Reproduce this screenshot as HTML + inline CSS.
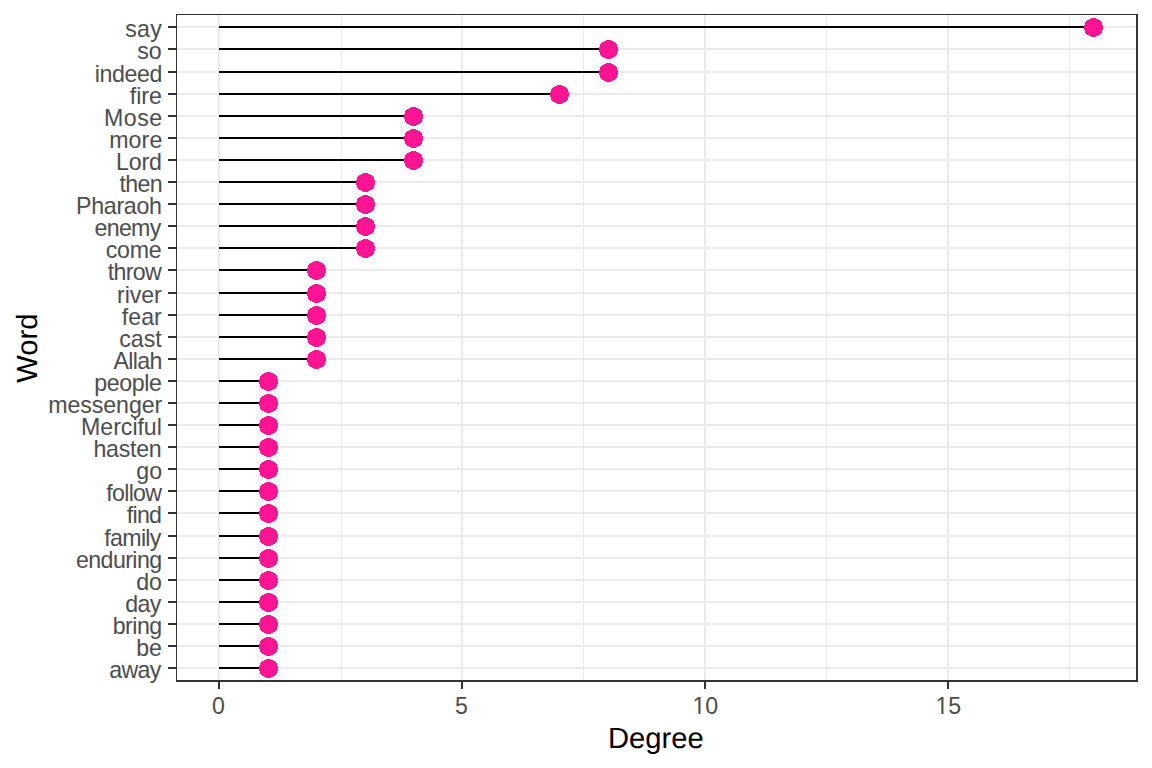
<!DOCTYPE html>
<html lang="en"><head><meta charset="utf-8"><title>Degree by Word</title>
<style>
html,body{margin:0;padding:0;background:#fff;}
body{width:1152px;height:768px;overflow:hidden;}
svg{display:block;}
text{font-family:"Liberation Sans",Arial,sans-serif;}
.yl{font-size:23.2px;fill:#4d4d4d;text-anchor:end;}
.xl{font-size:23.2px;fill:#4d4d4d;text-anchor:middle;}
.tt{font-size:29.2px;fill:#000;text-anchor:middle;text-rendering:geometricPrecision;}
</style></head><body>
<svg width="1152" height="768" viewBox="0 0 1152 768">
<rect x="0" y="0" width="1152" height="768" fill="#fff"/>
<g shape-rendering="crispEdges">
<rect x="341" y="15" width="1" height="665" fill="#ebebeb"/>
<rect x="583" y="15" width="1" height="665" fill="#ebebeb"/>
<rect x="826" y="15" width="1" height="665" fill="#ebebeb"/>
<rect x="1069" y="15" width="1" height="665" fill="#ebebeb"/>
<rect x="177" y="26" width="959" height="2" fill="#ebebeb"/>
<rect x="177" y="48" width="959" height="2" fill="#ebebeb"/>
<rect x="177" y="71" width="959" height="2" fill="#ebebeb"/>
<rect x="177" y="93" width="959" height="2" fill="#ebebeb"/>
<rect x="177" y="115" width="959" height="2" fill="#ebebeb"/>
<rect x="177" y="137" width="959" height="2" fill="#ebebeb"/>
<rect x="177" y="159" width="959" height="2" fill="#ebebeb"/>
<rect x="177" y="181" width="959" height="2" fill="#ebebeb"/>
<rect x="177" y="203" width="959" height="2" fill="#ebebeb"/>
<rect x="177" y="225" width="959" height="2" fill="#ebebeb"/>
<rect x="177" y="247" width="959" height="2" fill="#ebebeb"/>
<rect x="177" y="269" width="959" height="2" fill="#ebebeb"/>
<rect x="177" y="292" width="959" height="2" fill="#ebebeb"/>
<rect x="177" y="314" width="959" height="2" fill="#ebebeb"/>
<rect x="177" y="336" width="959" height="2" fill="#ebebeb"/>
<rect x="177" y="358" width="959" height="2" fill="#ebebeb"/>
<rect x="177" y="380" width="959" height="2" fill="#ebebeb"/>
<rect x="177" y="402" width="959" height="2" fill="#ebebeb"/>
<rect x="177" y="424" width="959" height="2" fill="#ebebeb"/>
<rect x="177" y="446" width="959" height="2" fill="#ebebeb"/>
<rect x="177" y="468" width="959" height="2" fill="#ebebeb"/>
<rect x="177" y="490" width="959" height="2" fill="#ebebeb"/>
<rect x="177" y="512" width="959" height="2" fill="#ebebeb"/>
<rect x="177" y="535" width="959" height="2" fill="#ebebeb"/>
<rect x="177" y="557" width="959" height="2" fill="#ebebeb"/>
<rect x="177" y="579" width="959" height="2" fill="#ebebeb"/>
<rect x="177" y="601" width="959" height="2" fill="#ebebeb"/>
<rect x="177" y="623" width="959" height="2" fill="#ebebeb"/>
<rect x="177" y="645" width="959" height="2" fill="#ebebeb"/>
<rect x="177" y="667" width="959" height="2" fill="#ebebeb"/>
<rect x="218" y="15" width="2" height="665" fill="#ebebeb"/>
<rect x="461" y="15" width="2" height="665" fill="#ebebeb"/>
<rect x="704" y="15" width="2" height="665" fill="#ebebeb"/>
<rect x="947" y="15" width="2" height="665" fill="#ebebeb"/>
<rect x="219" y="26" width="875" height="2" fill="#000"/>
<rect x="219" y="48" width="389" height="2" fill="#000"/>
<rect x="219" y="71" width="389" height="2" fill="#000"/>
<rect x="219" y="93" width="340" height="2" fill="#000"/>
<rect x="219" y="115" width="194" height="2" fill="#000"/>
<rect x="219" y="137" width="194" height="2" fill="#000"/>
<rect x="219" y="159" width="194" height="2" fill="#000"/>
<rect x="219" y="181" width="146" height="2" fill="#000"/>
<rect x="219" y="203" width="146" height="2" fill="#000"/>
<rect x="219" y="225" width="146" height="2" fill="#000"/>
<rect x="219" y="247" width="146" height="2" fill="#000"/>
<rect x="219" y="269" width="97" height="2" fill="#000"/>
<rect x="219" y="292" width="97" height="2" fill="#000"/>
<rect x="219" y="314" width="97" height="2" fill="#000"/>
<rect x="219" y="336" width="97" height="2" fill="#000"/>
<rect x="219" y="358" width="97" height="2" fill="#000"/>
<rect x="219" y="380" width="49" height="2" fill="#000"/>
<rect x="219" y="402" width="49" height="2" fill="#000"/>
<rect x="219" y="424" width="49" height="2" fill="#000"/>
<rect x="219" y="446" width="49" height="2" fill="#000"/>
<rect x="219" y="468" width="49" height="2" fill="#000"/>
<rect x="219" y="490" width="49" height="2" fill="#000"/>
<rect x="219" y="512" width="49" height="2" fill="#000"/>
<rect x="219" y="535" width="49" height="2" fill="#000"/>
<rect x="219" y="557" width="49" height="2" fill="#000"/>
<rect x="219" y="579" width="49" height="2" fill="#000"/>
<rect x="219" y="601" width="49" height="2" fill="#000"/>
<rect x="219" y="623" width="49" height="2" fill="#000"/>
<rect x="219" y="645" width="49" height="2" fill="#000"/>
<rect x="219" y="667" width="49" height="2" fill="#000"/>
<g fill="#ff1493">
<path transform="translate(1093,27)" d="M3 -9 L3 -8 L5 -8 L5 -7 L7 -7 L7 -6 L8 -6 L8 -5 L9 -5 L9 -4 L9 -4 L9 -3 L9 -3 L9 -2 L10 -2 L10 -1 L10 -1 L10 0 L10 0 L10 1 L10 1 L10 2 L10 2 L10 3 L9 3 L9 4 L9 4 L9 5 L9 5 L9 6 L8 6 L8 7 L7 7 L7 8 L5 8 L5 9 L3 9 L3 10 L-2 10 L-2 9 L-4 9 L-4 8 L-6 8 L-6 7 L-7 7 L-7 6 L-8 6 L-8 5 L-8 5 L-8 4 L-8 4 L-8 3 L-9 3 L-9 2 L-9 2 L-9 1 L-9 1 L-9 0 L-9 0 L-9 -1 L-9 -1 L-9 -2 L-8 -2 L-8 -3 L-8 -3 L-8 -4 L-8 -4 L-8 -5 L-7 -5 L-7 -6 L-6 -6 L-6 -7 L-4 -7 L-4 -8 L-2 -8 L-2 -9Z"/>
<path transform="translate(608,49)" d="M3 -9 L3 -8 L5 -8 L5 -7 L7 -7 L7 -6 L8 -6 L8 -5 L9 -5 L9 -4 L9 -4 L9 -3 L9 -3 L9 -2 L10 -2 L10 -1 L10 -1 L10 0 L10 0 L10 1 L10 1 L10 2 L10 2 L10 3 L9 3 L9 4 L9 4 L9 5 L9 5 L9 6 L8 6 L8 7 L7 7 L7 8 L5 8 L5 9 L3 9 L3 10 L-2 10 L-2 9 L-4 9 L-4 8 L-6 8 L-6 7 L-7 7 L-7 6 L-8 6 L-8 5 L-8 5 L-8 4 L-8 4 L-8 3 L-9 3 L-9 2 L-9 2 L-9 1 L-9 1 L-9 0 L-9 0 L-9 -1 L-9 -1 L-9 -2 L-8 -2 L-8 -3 L-8 -3 L-8 -4 L-8 -4 L-8 -5 L-7 -5 L-7 -6 L-6 -6 L-6 -7 L-4 -7 L-4 -8 L-2 -8 L-2 -9Z"/>
<path transform="translate(608,72)" d="M3 -9 L3 -8 L5 -8 L5 -7 L7 -7 L7 -6 L8 -6 L8 -5 L9 -5 L9 -4 L9 -4 L9 -3 L9 -3 L9 -2 L10 -2 L10 -1 L10 -1 L10 0 L10 0 L10 1 L10 1 L10 2 L10 2 L10 3 L9 3 L9 4 L9 4 L9 5 L9 5 L9 6 L8 6 L8 7 L7 7 L7 8 L5 8 L5 9 L3 9 L3 10 L-2 10 L-2 9 L-4 9 L-4 8 L-6 8 L-6 7 L-7 7 L-7 6 L-8 6 L-8 5 L-8 5 L-8 4 L-8 4 L-8 3 L-9 3 L-9 2 L-9 2 L-9 1 L-9 1 L-9 0 L-9 0 L-9 -1 L-9 -1 L-9 -2 L-8 -2 L-8 -3 L-8 -3 L-8 -4 L-8 -4 L-8 -5 L-7 -5 L-7 -6 L-6 -6 L-6 -7 L-4 -7 L-4 -8 L-2 -8 L-2 -9Z"/>
<path transform="translate(559,94)" d="M3 -9 L3 -8 L5 -8 L5 -7 L7 -7 L7 -6 L8 -6 L8 -5 L9 -5 L9 -4 L9 -4 L9 -3 L9 -3 L9 -2 L10 -2 L10 -1 L10 -1 L10 0 L10 0 L10 1 L10 1 L10 2 L10 2 L10 3 L9 3 L9 4 L9 4 L9 5 L9 5 L9 6 L8 6 L8 7 L7 7 L7 8 L5 8 L5 9 L3 9 L3 10 L-2 10 L-2 9 L-4 9 L-4 8 L-6 8 L-6 7 L-7 7 L-7 6 L-8 6 L-8 5 L-8 5 L-8 4 L-8 4 L-8 3 L-9 3 L-9 2 L-9 2 L-9 1 L-9 1 L-9 0 L-9 0 L-9 -1 L-9 -1 L-9 -2 L-8 -2 L-8 -3 L-8 -3 L-8 -4 L-8 -4 L-8 -5 L-7 -5 L-7 -6 L-6 -6 L-6 -7 L-4 -7 L-4 -8 L-2 -8 L-2 -9Z"/>
<path transform="translate(413,116)" d="M3 -9 L3 -8 L5 -8 L5 -7 L7 -7 L7 -6 L8 -6 L8 -5 L9 -5 L9 -4 L9 -4 L9 -3 L9 -3 L9 -2 L10 -2 L10 -1 L10 -1 L10 0 L10 0 L10 1 L10 1 L10 2 L10 2 L10 3 L9 3 L9 4 L9 4 L9 5 L9 5 L9 6 L8 6 L8 7 L7 7 L7 8 L5 8 L5 9 L3 9 L3 10 L-2 10 L-2 9 L-4 9 L-4 8 L-6 8 L-6 7 L-7 7 L-7 6 L-8 6 L-8 5 L-8 5 L-8 4 L-8 4 L-8 3 L-9 3 L-9 2 L-9 2 L-9 1 L-9 1 L-9 0 L-9 0 L-9 -1 L-9 -1 L-9 -2 L-8 -2 L-8 -3 L-8 -3 L-8 -4 L-8 -4 L-8 -5 L-7 -5 L-7 -6 L-6 -6 L-6 -7 L-4 -7 L-4 -8 L-2 -8 L-2 -9Z"/>
<path transform="translate(413,138)" d="M3 -9 L3 -8 L5 -8 L5 -7 L7 -7 L7 -6 L8 -6 L8 -5 L9 -5 L9 -4 L9 -4 L9 -3 L9 -3 L9 -2 L10 -2 L10 -1 L10 -1 L10 0 L10 0 L10 1 L10 1 L10 2 L10 2 L10 3 L9 3 L9 4 L9 4 L9 5 L9 5 L9 6 L8 6 L8 7 L7 7 L7 8 L5 8 L5 9 L3 9 L3 10 L-2 10 L-2 9 L-4 9 L-4 8 L-6 8 L-6 7 L-7 7 L-7 6 L-8 6 L-8 5 L-8 5 L-8 4 L-8 4 L-8 3 L-9 3 L-9 2 L-9 2 L-9 1 L-9 1 L-9 0 L-9 0 L-9 -1 L-9 -1 L-9 -2 L-8 -2 L-8 -3 L-8 -3 L-8 -4 L-8 -4 L-8 -5 L-7 -5 L-7 -6 L-6 -6 L-6 -7 L-4 -7 L-4 -8 L-2 -8 L-2 -9Z"/>
<path transform="translate(413,160)" d="M3 -9 L3 -8 L5 -8 L5 -7 L7 -7 L7 -6 L8 -6 L8 -5 L9 -5 L9 -4 L9 -4 L9 -3 L9 -3 L9 -2 L10 -2 L10 -1 L10 -1 L10 0 L10 0 L10 1 L10 1 L10 2 L10 2 L10 3 L9 3 L9 4 L9 4 L9 5 L9 5 L9 6 L8 6 L8 7 L7 7 L7 8 L5 8 L5 9 L3 9 L3 10 L-2 10 L-2 9 L-4 9 L-4 8 L-6 8 L-6 7 L-7 7 L-7 6 L-8 6 L-8 5 L-8 5 L-8 4 L-8 4 L-8 3 L-9 3 L-9 2 L-9 2 L-9 1 L-9 1 L-9 0 L-9 0 L-9 -1 L-9 -1 L-9 -2 L-8 -2 L-8 -3 L-8 -3 L-8 -4 L-8 -4 L-8 -5 L-7 -5 L-7 -6 L-6 -6 L-6 -7 L-4 -7 L-4 -8 L-2 -8 L-2 -9Z"/>
<path transform="translate(365,182)" d="M3 -9 L3 -8 L5 -8 L5 -7 L7 -7 L7 -6 L8 -6 L8 -5 L9 -5 L9 -4 L9 -4 L9 -3 L9 -3 L9 -2 L10 -2 L10 -1 L10 -1 L10 0 L10 0 L10 1 L10 1 L10 2 L10 2 L10 3 L9 3 L9 4 L9 4 L9 5 L9 5 L9 6 L8 6 L8 7 L7 7 L7 8 L5 8 L5 9 L3 9 L3 10 L-2 10 L-2 9 L-4 9 L-4 8 L-6 8 L-6 7 L-7 7 L-7 6 L-8 6 L-8 5 L-8 5 L-8 4 L-8 4 L-8 3 L-9 3 L-9 2 L-9 2 L-9 1 L-9 1 L-9 0 L-9 0 L-9 -1 L-9 -1 L-9 -2 L-8 -2 L-8 -3 L-8 -3 L-8 -4 L-8 -4 L-8 -5 L-7 -5 L-7 -6 L-6 -6 L-6 -7 L-4 -7 L-4 -8 L-2 -8 L-2 -9Z"/>
<path transform="translate(365,204)" d="M3 -9 L3 -8 L5 -8 L5 -7 L7 -7 L7 -6 L8 -6 L8 -5 L9 -5 L9 -4 L9 -4 L9 -3 L9 -3 L9 -2 L10 -2 L10 -1 L10 -1 L10 0 L10 0 L10 1 L10 1 L10 2 L10 2 L10 3 L9 3 L9 4 L9 4 L9 5 L9 5 L9 6 L8 6 L8 7 L7 7 L7 8 L5 8 L5 9 L3 9 L3 10 L-2 10 L-2 9 L-4 9 L-4 8 L-6 8 L-6 7 L-7 7 L-7 6 L-8 6 L-8 5 L-8 5 L-8 4 L-8 4 L-8 3 L-9 3 L-9 2 L-9 2 L-9 1 L-9 1 L-9 0 L-9 0 L-9 -1 L-9 -1 L-9 -2 L-8 -2 L-8 -3 L-8 -3 L-8 -4 L-8 -4 L-8 -5 L-7 -5 L-7 -6 L-6 -6 L-6 -7 L-4 -7 L-4 -8 L-2 -8 L-2 -9Z"/>
<path transform="translate(365,226)" d="M3 -9 L3 -8 L5 -8 L5 -7 L7 -7 L7 -6 L8 -6 L8 -5 L9 -5 L9 -4 L9 -4 L9 -3 L9 -3 L9 -2 L10 -2 L10 -1 L10 -1 L10 0 L10 0 L10 1 L10 1 L10 2 L10 2 L10 3 L9 3 L9 4 L9 4 L9 5 L9 5 L9 6 L8 6 L8 7 L7 7 L7 8 L5 8 L5 9 L3 9 L3 10 L-2 10 L-2 9 L-4 9 L-4 8 L-6 8 L-6 7 L-7 7 L-7 6 L-8 6 L-8 5 L-8 5 L-8 4 L-8 4 L-8 3 L-9 3 L-9 2 L-9 2 L-9 1 L-9 1 L-9 0 L-9 0 L-9 -1 L-9 -1 L-9 -2 L-8 -2 L-8 -3 L-8 -3 L-8 -4 L-8 -4 L-8 -5 L-7 -5 L-7 -6 L-6 -6 L-6 -7 L-4 -7 L-4 -8 L-2 -8 L-2 -9Z"/>
<path transform="translate(365,248)" d="M3 -9 L3 -8 L5 -8 L5 -7 L7 -7 L7 -6 L8 -6 L8 -5 L9 -5 L9 -4 L9 -4 L9 -3 L9 -3 L9 -2 L10 -2 L10 -1 L10 -1 L10 0 L10 0 L10 1 L10 1 L10 2 L10 2 L10 3 L9 3 L9 4 L9 4 L9 5 L9 5 L9 6 L8 6 L8 7 L7 7 L7 8 L5 8 L5 9 L3 9 L3 10 L-2 10 L-2 9 L-4 9 L-4 8 L-6 8 L-6 7 L-7 7 L-7 6 L-8 6 L-8 5 L-8 5 L-8 4 L-8 4 L-8 3 L-9 3 L-9 2 L-9 2 L-9 1 L-9 1 L-9 0 L-9 0 L-9 -1 L-9 -1 L-9 -2 L-8 -2 L-8 -3 L-8 -3 L-8 -4 L-8 -4 L-8 -5 L-7 -5 L-7 -6 L-6 -6 L-6 -7 L-4 -7 L-4 -8 L-2 -8 L-2 -9Z"/>
<path transform="translate(316,270)" d="M3 -9 L3 -8 L5 -8 L5 -7 L7 -7 L7 -6 L8 -6 L8 -5 L9 -5 L9 -4 L9 -4 L9 -3 L9 -3 L9 -2 L10 -2 L10 -1 L10 -1 L10 0 L10 0 L10 1 L10 1 L10 2 L10 2 L10 3 L9 3 L9 4 L9 4 L9 5 L9 5 L9 6 L8 6 L8 7 L7 7 L7 8 L5 8 L5 9 L3 9 L3 10 L-2 10 L-2 9 L-4 9 L-4 8 L-6 8 L-6 7 L-7 7 L-7 6 L-8 6 L-8 5 L-8 5 L-8 4 L-8 4 L-8 3 L-9 3 L-9 2 L-9 2 L-9 1 L-9 1 L-9 0 L-9 0 L-9 -1 L-9 -1 L-9 -2 L-8 -2 L-8 -3 L-8 -3 L-8 -4 L-8 -4 L-8 -5 L-7 -5 L-7 -6 L-6 -6 L-6 -7 L-4 -7 L-4 -8 L-2 -8 L-2 -9Z"/>
<path transform="translate(316,293)" d="M3 -9 L3 -8 L5 -8 L5 -7 L7 -7 L7 -6 L8 -6 L8 -5 L9 -5 L9 -4 L9 -4 L9 -3 L9 -3 L9 -2 L10 -2 L10 -1 L10 -1 L10 0 L10 0 L10 1 L10 1 L10 2 L10 2 L10 3 L9 3 L9 4 L9 4 L9 5 L9 5 L9 6 L8 6 L8 7 L7 7 L7 8 L5 8 L5 9 L3 9 L3 10 L-2 10 L-2 9 L-4 9 L-4 8 L-6 8 L-6 7 L-7 7 L-7 6 L-8 6 L-8 5 L-8 5 L-8 4 L-8 4 L-8 3 L-9 3 L-9 2 L-9 2 L-9 1 L-9 1 L-9 0 L-9 0 L-9 -1 L-9 -1 L-9 -2 L-8 -2 L-8 -3 L-8 -3 L-8 -4 L-8 -4 L-8 -5 L-7 -5 L-7 -6 L-6 -6 L-6 -7 L-4 -7 L-4 -8 L-2 -8 L-2 -9Z"/>
<path transform="translate(316,315)" d="M3 -9 L3 -8 L5 -8 L5 -7 L7 -7 L7 -6 L8 -6 L8 -5 L9 -5 L9 -4 L9 -4 L9 -3 L9 -3 L9 -2 L10 -2 L10 -1 L10 -1 L10 0 L10 0 L10 1 L10 1 L10 2 L10 2 L10 3 L9 3 L9 4 L9 4 L9 5 L9 5 L9 6 L8 6 L8 7 L7 7 L7 8 L5 8 L5 9 L3 9 L3 10 L-2 10 L-2 9 L-4 9 L-4 8 L-6 8 L-6 7 L-7 7 L-7 6 L-8 6 L-8 5 L-8 5 L-8 4 L-8 4 L-8 3 L-9 3 L-9 2 L-9 2 L-9 1 L-9 1 L-9 0 L-9 0 L-9 -1 L-9 -1 L-9 -2 L-8 -2 L-8 -3 L-8 -3 L-8 -4 L-8 -4 L-8 -5 L-7 -5 L-7 -6 L-6 -6 L-6 -7 L-4 -7 L-4 -8 L-2 -8 L-2 -9Z"/>
<path transform="translate(316,337)" d="M3 -9 L3 -8 L5 -8 L5 -7 L7 -7 L7 -6 L8 -6 L8 -5 L9 -5 L9 -4 L9 -4 L9 -3 L9 -3 L9 -2 L10 -2 L10 -1 L10 -1 L10 0 L10 0 L10 1 L10 1 L10 2 L10 2 L10 3 L9 3 L9 4 L9 4 L9 5 L9 5 L9 6 L8 6 L8 7 L7 7 L7 8 L5 8 L5 9 L3 9 L3 10 L-2 10 L-2 9 L-4 9 L-4 8 L-6 8 L-6 7 L-7 7 L-7 6 L-8 6 L-8 5 L-8 5 L-8 4 L-8 4 L-8 3 L-9 3 L-9 2 L-9 2 L-9 1 L-9 1 L-9 0 L-9 0 L-9 -1 L-9 -1 L-9 -2 L-8 -2 L-8 -3 L-8 -3 L-8 -4 L-8 -4 L-8 -5 L-7 -5 L-7 -6 L-6 -6 L-6 -7 L-4 -7 L-4 -8 L-2 -8 L-2 -9Z"/>
<path transform="translate(316,359)" d="M3 -9 L3 -8 L5 -8 L5 -7 L7 -7 L7 -6 L8 -6 L8 -5 L9 -5 L9 -4 L9 -4 L9 -3 L9 -3 L9 -2 L10 -2 L10 -1 L10 -1 L10 0 L10 0 L10 1 L10 1 L10 2 L10 2 L10 3 L9 3 L9 4 L9 4 L9 5 L9 5 L9 6 L8 6 L8 7 L7 7 L7 8 L5 8 L5 9 L3 9 L3 10 L-2 10 L-2 9 L-4 9 L-4 8 L-6 8 L-6 7 L-7 7 L-7 6 L-8 6 L-8 5 L-8 5 L-8 4 L-8 4 L-8 3 L-9 3 L-9 2 L-9 2 L-9 1 L-9 1 L-9 0 L-9 0 L-9 -1 L-9 -1 L-9 -2 L-8 -2 L-8 -3 L-8 -3 L-8 -4 L-8 -4 L-8 -5 L-7 -5 L-7 -6 L-6 -6 L-6 -7 L-4 -7 L-4 -8 L-2 -8 L-2 -9Z"/>
<path transform="translate(268,381)" d="M3 -9 L3 -8 L5 -8 L5 -7 L7 -7 L7 -6 L8 -6 L8 -5 L9 -5 L9 -4 L9 -4 L9 -3 L9 -3 L9 -2 L10 -2 L10 -1 L10 -1 L10 0 L10 0 L10 1 L10 1 L10 2 L10 2 L10 3 L9 3 L9 4 L9 4 L9 5 L9 5 L9 6 L8 6 L8 7 L7 7 L7 8 L5 8 L5 9 L3 9 L3 10 L-2 10 L-2 9 L-4 9 L-4 8 L-6 8 L-6 7 L-7 7 L-7 6 L-8 6 L-8 5 L-8 5 L-8 4 L-8 4 L-8 3 L-9 3 L-9 2 L-9 2 L-9 1 L-9 1 L-9 0 L-9 0 L-9 -1 L-9 -1 L-9 -2 L-8 -2 L-8 -3 L-8 -3 L-8 -4 L-8 -4 L-8 -5 L-7 -5 L-7 -6 L-6 -6 L-6 -7 L-4 -7 L-4 -8 L-2 -8 L-2 -9Z"/>
<path transform="translate(268,403)" d="M3 -9 L3 -8 L5 -8 L5 -7 L7 -7 L7 -6 L8 -6 L8 -5 L9 -5 L9 -4 L9 -4 L9 -3 L9 -3 L9 -2 L10 -2 L10 -1 L10 -1 L10 0 L10 0 L10 1 L10 1 L10 2 L10 2 L10 3 L9 3 L9 4 L9 4 L9 5 L9 5 L9 6 L8 6 L8 7 L7 7 L7 8 L5 8 L5 9 L3 9 L3 10 L-2 10 L-2 9 L-4 9 L-4 8 L-6 8 L-6 7 L-7 7 L-7 6 L-8 6 L-8 5 L-8 5 L-8 4 L-8 4 L-8 3 L-9 3 L-9 2 L-9 2 L-9 1 L-9 1 L-9 0 L-9 0 L-9 -1 L-9 -1 L-9 -2 L-8 -2 L-8 -3 L-8 -3 L-8 -4 L-8 -4 L-8 -5 L-7 -5 L-7 -6 L-6 -6 L-6 -7 L-4 -7 L-4 -8 L-2 -8 L-2 -9Z"/>
<path transform="translate(268,425)" d="M3 -9 L3 -8 L5 -8 L5 -7 L7 -7 L7 -6 L8 -6 L8 -5 L9 -5 L9 -4 L9 -4 L9 -3 L9 -3 L9 -2 L10 -2 L10 -1 L10 -1 L10 0 L10 0 L10 1 L10 1 L10 2 L10 2 L10 3 L9 3 L9 4 L9 4 L9 5 L9 5 L9 6 L8 6 L8 7 L7 7 L7 8 L5 8 L5 9 L3 9 L3 10 L-2 10 L-2 9 L-4 9 L-4 8 L-6 8 L-6 7 L-7 7 L-7 6 L-8 6 L-8 5 L-8 5 L-8 4 L-8 4 L-8 3 L-9 3 L-9 2 L-9 2 L-9 1 L-9 1 L-9 0 L-9 0 L-9 -1 L-9 -1 L-9 -2 L-8 -2 L-8 -3 L-8 -3 L-8 -4 L-8 -4 L-8 -5 L-7 -5 L-7 -6 L-6 -6 L-6 -7 L-4 -7 L-4 -8 L-2 -8 L-2 -9Z"/>
<path transform="translate(268,447)" d="M3 -9 L3 -8 L5 -8 L5 -7 L7 -7 L7 -6 L8 -6 L8 -5 L9 -5 L9 -4 L9 -4 L9 -3 L9 -3 L9 -2 L10 -2 L10 -1 L10 -1 L10 0 L10 0 L10 1 L10 1 L10 2 L10 2 L10 3 L9 3 L9 4 L9 4 L9 5 L9 5 L9 6 L8 6 L8 7 L7 7 L7 8 L5 8 L5 9 L3 9 L3 10 L-2 10 L-2 9 L-4 9 L-4 8 L-6 8 L-6 7 L-7 7 L-7 6 L-8 6 L-8 5 L-8 5 L-8 4 L-8 4 L-8 3 L-9 3 L-9 2 L-9 2 L-9 1 L-9 1 L-9 0 L-9 0 L-9 -1 L-9 -1 L-9 -2 L-8 -2 L-8 -3 L-8 -3 L-8 -4 L-8 -4 L-8 -5 L-7 -5 L-7 -6 L-6 -6 L-6 -7 L-4 -7 L-4 -8 L-2 -8 L-2 -9Z"/>
<path transform="translate(268,469)" d="M3 -9 L3 -8 L5 -8 L5 -7 L7 -7 L7 -6 L8 -6 L8 -5 L9 -5 L9 -4 L9 -4 L9 -3 L9 -3 L9 -2 L10 -2 L10 -1 L10 -1 L10 0 L10 0 L10 1 L10 1 L10 2 L10 2 L10 3 L9 3 L9 4 L9 4 L9 5 L9 5 L9 6 L8 6 L8 7 L7 7 L7 8 L5 8 L5 9 L3 9 L3 10 L-2 10 L-2 9 L-4 9 L-4 8 L-6 8 L-6 7 L-7 7 L-7 6 L-8 6 L-8 5 L-8 5 L-8 4 L-8 4 L-8 3 L-9 3 L-9 2 L-9 2 L-9 1 L-9 1 L-9 0 L-9 0 L-9 -1 L-9 -1 L-9 -2 L-8 -2 L-8 -3 L-8 -3 L-8 -4 L-8 -4 L-8 -5 L-7 -5 L-7 -6 L-6 -6 L-6 -7 L-4 -7 L-4 -8 L-2 -8 L-2 -9Z"/>
<path transform="translate(268,491)" d="M3 -9 L3 -8 L5 -8 L5 -7 L7 -7 L7 -6 L8 -6 L8 -5 L9 -5 L9 -4 L9 -4 L9 -3 L9 -3 L9 -2 L10 -2 L10 -1 L10 -1 L10 0 L10 0 L10 1 L10 1 L10 2 L10 2 L10 3 L9 3 L9 4 L9 4 L9 5 L9 5 L9 6 L8 6 L8 7 L7 7 L7 8 L5 8 L5 9 L3 9 L3 10 L-2 10 L-2 9 L-4 9 L-4 8 L-6 8 L-6 7 L-7 7 L-7 6 L-8 6 L-8 5 L-8 5 L-8 4 L-8 4 L-8 3 L-9 3 L-9 2 L-9 2 L-9 1 L-9 1 L-9 0 L-9 0 L-9 -1 L-9 -1 L-9 -2 L-8 -2 L-8 -3 L-8 -3 L-8 -4 L-8 -4 L-8 -5 L-7 -5 L-7 -6 L-6 -6 L-6 -7 L-4 -7 L-4 -8 L-2 -8 L-2 -9Z"/>
<path transform="translate(268,513)" d="M3 -9 L3 -8 L5 -8 L5 -7 L7 -7 L7 -6 L8 -6 L8 -5 L9 -5 L9 -4 L9 -4 L9 -3 L9 -3 L9 -2 L10 -2 L10 -1 L10 -1 L10 0 L10 0 L10 1 L10 1 L10 2 L10 2 L10 3 L9 3 L9 4 L9 4 L9 5 L9 5 L9 6 L8 6 L8 7 L7 7 L7 8 L5 8 L5 9 L3 9 L3 10 L-2 10 L-2 9 L-4 9 L-4 8 L-6 8 L-6 7 L-7 7 L-7 6 L-8 6 L-8 5 L-8 5 L-8 4 L-8 4 L-8 3 L-9 3 L-9 2 L-9 2 L-9 1 L-9 1 L-9 0 L-9 0 L-9 -1 L-9 -1 L-9 -2 L-8 -2 L-8 -3 L-8 -3 L-8 -4 L-8 -4 L-8 -5 L-7 -5 L-7 -6 L-6 -6 L-6 -7 L-4 -7 L-4 -8 L-2 -8 L-2 -9Z"/>
<path transform="translate(268,536)" d="M3 -9 L3 -8 L5 -8 L5 -7 L7 -7 L7 -6 L8 -6 L8 -5 L9 -5 L9 -4 L9 -4 L9 -3 L9 -3 L9 -2 L10 -2 L10 -1 L10 -1 L10 0 L10 0 L10 1 L10 1 L10 2 L10 2 L10 3 L9 3 L9 4 L9 4 L9 5 L9 5 L9 6 L8 6 L8 7 L7 7 L7 8 L5 8 L5 9 L3 9 L3 10 L-2 10 L-2 9 L-4 9 L-4 8 L-6 8 L-6 7 L-7 7 L-7 6 L-8 6 L-8 5 L-8 5 L-8 4 L-8 4 L-8 3 L-9 3 L-9 2 L-9 2 L-9 1 L-9 1 L-9 0 L-9 0 L-9 -1 L-9 -1 L-9 -2 L-8 -2 L-8 -3 L-8 -3 L-8 -4 L-8 -4 L-8 -5 L-7 -5 L-7 -6 L-6 -6 L-6 -7 L-4 -7 L-4 -8 L-2 -8 L-2 -9Z"/>
<path transform="translate(268,558)" d="M3 -9 L3 -8 L5 -8 L5 -7 L7 -7 L7 -6 L8 -6 L8 -5 L9 -5 L9 -4 L9 -4 L9 -3 L9 -3 L9 -2 L10 -2 L10 -1 L10 -1 L10 0 L10 0 L10 1 L10 1 L10 2 L10 2 L10 3 L9 3 L9 4 L9 4 L9 5 L9 5 L9 6 L8 6 L8 7 L7 7 L7 8 L5 8 L5 9 L3 9 L3 10 L-2 10 L-2 9 L-4 9 L-4 8 L-6 8 L-6 7 L-7 7 L-7 6 L-8 6 L-8 5 L-8 5 L-8 4 L-8 4 L-8 3 L-9 3 L-9 2 L-9 2 L-9 1 L-9 1 L-9 0 L-9 0 L-9 -1 L-9 -1 L-9 -2 L-8 -2 L-8 -3 L-8 -3 L-8 -4 L-8 -4 L-8 -5 L-7 -5 L-7 -6 L-6 -6 L-6 -7 L-4 -7 L-4 -8 L-2 -8 L-2 -9Z"/>
<path transform="translate(268,580)" d="M3 -9 L3 -8 L5 -8 L5 -7 L7 -7 L7 -6 L8 -6 L8 -5 L9 -5 L9 -4 L9 -4 L9 -3 L9 -3 L9 -2 L10 -2 L10 -1 L10 -1 L10 0 L10 0 L10 1 L10 1 L10 2 L10 2 L10 3 L9 3 L9 4 L9 4 L9 5 L9 5 L9 6 L8 6 L8 7 L7 7 L7 8 L5 8 L5 9 L3 9 L3 10 L-2 10 L-2 9 L-4 9 L-4 8 L-6 8 L-6 7 L-7 7 L-7 6 L-8 6 L-8 5 L-8 5 L-8 4 L-8 4 L-8 3 L-9 3 L-9 2 L-9 2 L-9 1 L-9 1 L-9 0 L-9 0 L-9 -1 L-9 -1 L-9 -2 L-8 -2 L-8 -3 L-8 -3 L-8 -4 L-8 -4 L-8 -5 L-7 -5 L-7 -6 L-6 -6 L-6 -7 L-4 -7 L-4 -8 L-2 -8 L-2 -9Z"/>
<path transform="translate(268,602)" d="M3 -9 L3 -8 L5 -8 L5 -7 L7 -7 L7 -6 L8 -6 L8 -5 L9 -5 L9 -4 L9 -4 L9 -3 L9 -3 L9 -2 L10 -2 L10 -1 L10 -1 L10 0 L10 0 L10 1 L10 1 L10 2 L10 2 L10 3 L9 3 L9 4 L9 4 L9 5 L9 5 L9 6 L8 6 L8 7 L7 7 L7 8 L5 8 L5 9 L3 9 L3 10 L-2 10 L-2 9 L-4 9 L-4 8 L-6 8 L-6 7 L-7 7 L-7 6 L-8 6 L-8 5 L-8 5 L-8 4 L-8 4 L-8 3 L-9 3 L-9 2 L-9 2 L-9 1 L-9 1 L-9 0 L-9 0 L-9 -1 L-9 -1 L-9 -2 L-8 -2 L-8 -3 L-8 -3 L-8 -4 L-8 -4 L-8 -5 L-7 -5 L-7 -6 L-6 -6 L-6 -7 L-4 -7 L-4 -8 L-2 -8 L-2 -9Z"/>
<path transform="translate(268,624)" d="M3 -9 L3 -8 L5 -8 L5 -7 L7 -7 L7 -6 L8 -6 L8 -5 L9 -5 L9 -4 L9 -4 L9 -3 L9 -3 L9 -2 L10 -2 L10 -1 L10 -1 L10 0 L10 0 L10 1 L10 1 L10 2 L10 2 L10 3 L9 3 L9 4 L9 4 L9 5 L9 5 L9 6 L8 6 L8 7 L7 7 L7 8 L5 8 L5 9 L3 9 L3 10 L-2 10 L-2 9 L-4 9 L-4 8 L-6 8 L-6 7 L-7 7 L-7 6 L-8 6 L-8 5 L-8 5 L-8 4 L-8 4 L-8 3 L-9 3 L-9 2 L-9 2 L-9 1 L-9 1 L-9 0 L-9 0 L-9 -1 L-9 -1 L-9 -2 L-8 -2 L-8 -3 L-8 -3 L-8 -4 L-8 -4 L-8 -5 L-7 -5 L-7 -6 L-6 -6 L-6 -7 L-4 -7 L-4 -8 L-2 -8 L-2 -9Z"/>
<path transform="translate(268,646)" d="M3 -9 L3 -8 L5 -8 L5 -7 L7 -7 L7 -6 L8 -6 L8 -5 L9 -5 L9 -4 L9 -4 L9 -3 L9 -3 L9 -2 L10 -2 L10 -1 L10 -1 L10 0 L10 0 L10 1 L10 1 L10 2 L10 2 L10 3 L9 3 L9 4 L9 4 L9 5 L9 5 L9 6 L8 6 L8 7 L7 7 L7 8 L5 8 L5 9 L3 9 L3 10 L-2 10 L-2 9 L-4 9 L-4 8 L-6 8 L-6 7 L-7 7 L-7 6 L-8 6 L-8 5 L-8 5 L-8 4 L-8 4 L-8 3 L-9 3 L-9 2 L-9 2 L-9 1 L-9 1 L-9 0 L-9 0 L-9 -1 L-9 -1 L-9 -2 L-8 -2 L-8 -3 L-8 -3 L-8 -4 L-8 -4 L-8 -5 L-7 -5 L-7 -6 L-6 -6 L-6 -7 L-4 -7 L-4 -8 L-2 -8 L-2 -9Z"/>
<path transform="translate(268,668)" d="M3 -9 L3 -8 L5 -8 L5 -7 L7 -7 L7 -6 L8 -6 L8 -5 L9 -5 L9 -4 L9 -4 L9 -3 L9 -3 L9 -2 L10 -2 L10 -1 L10 -1 L10 0 L10 0 L10 1 L10 1 L10 2 L10 2 L10 3 L9 3 L9 4 L9 4 L9 5 L9 5 L9 6 L8 6 L8 7 L7 7 L7 8 L5 8 L5 9 L3 9 L3 10 L-2 10 L-2 9 L-4 9 L-4 8 L-6 8 L-6 7 L-7 7 L-7 6 L-8 6 L-8 5 L-8 5 L-8 4 L-8 4 L-8 3 L-9 3 L-9 2 L-9 2 L-9 1 L-9 1 L-9 0 L-9 0 L-9 -1 L-9 -1 L-9 -2 L-8 -2 L-8 -3 L-8 -3 L-8 -4 L-8 -4 L-8 -5 L-7 -5 L-7 -6 L-6 -6 L-6 -7 L-4 -7 L-4 -8 L-2 -8 L-2 -9Z"/>
</g>
<rect x="176" y="14" width="1" height="668" fill="#333"/>
<rect x="176" y="14" width="962" height="1" fill="#333"/>
<rect x="1136" y="14" width="2" height="668" fill="#333"/>
<rect x="176" y="680" width="962" height="2" fill="#333"/>
<rect x="168" y="26" width="8" height="2" fill="#333"/>
<rect x="168" y="48" width="8" height="2" fill="#333"/>
<rect x="168" y="71" width="8" height="2" fill="#333"/>
<rect x="168" y="93" width="8" height="2" fill="#333"/>
<rect x="168" y="115" width="8" height="2" fill="#333"/>
<rect x="168" y="137" width="8" height="2" fill="#333"/>
<rect x="168" y="159" width="8" height="2" fill="#333"/>
<rect x="168" y="181" width="8" height="2" fill="#333"/>
<rect x="168" y="203" width="8" height="2" fill="#333"/>
<rect x="168" y="225" width="8" height="2" fill="#333"/>
<rect x="168" y="247" width="8" height="2" fill="#333"/>
<rect x="168" y="269" width="8" height="2" fill="#333"/>
<rect x="168" y="292" width="8" height="2" fill="#333"/>
<rect x="168" y="314" width="8" height="2" fill="#333"/>
<rect x="168" y="336" width="8" height="2" fill="#333"/>
<rect x="168" y="358" width="8" height="2" fill="#333"/>
<rect x="168" y="380" width="8" height="2" fill="#333"/>
<rect x="168" y="402" width="8" height="2" fill="#333"/>
<rect x="168" y="424" width="8" height="2" fill="#333"/>
<rect x="168" y="446" width="8" height="2" fill="#333"/>
<rect x="168" y="468" width="8" height="2" fill="#333"/>
<rect x="168" y="490" width="8" height="2" fill="#333"/>
<rect x="168" y="512" width="8" height="2" fill="#333"/>
<rect x="168" y="535" width="8" height="2" fill="#333"/>
<rect x="168" y="557" width="8" height="2" fill="#333"/>
<rect x="168" y="579" width="8" height="2" fill="#333"/>
<rect x="168" y="601" width="8" height="2" fill="#333"/>
<rect x="168" y="623" width="8" height="2" fill="#333"/>
<rect x="168" y="645" width="8" height="2" fill="#333"/>
<rect x="168" y="667" width="8" height="2" fill="#333"/>
<rect x="218" y="682" width="2" height="7" fill="#333"/>
<rect x="461" y="682" width="2" height="7" fill="#333"/>
<rect x="704" y="682" width="2" height="7" fill="#333"/>
<rect x="947" y="682" width="2" height="7" fill="#333"/>
</g>
<text class="yl" x="162.00" y="37.0" style="letter-spacing:0.200px">say</text>
<text class="yl" x="161.70" y="59.0">so</text>
<text class="yl" x="161.90" y="82.0" style="letter-spacing:-0.400px">indeed</text>
<text class="yl" x="161.95" y="104.0" style="letter-spacing:-0.033px">fire</text>
<text class="yl" x="162.55" y="126.0" style="letter-spacing:0.433px">Mose</text>
<text class="yl" x="162.50" y="148.0" style="letter-spacing:0.133px">more</text>
<text class="yl" x="161.90" y="170.0" style="letter-spacing:-0.133px">Lord</text>
<text class="yl" x="161.85" y="192.0" style="letter-spacing:-0.700px">then</text>
<text class="yl" x="161.55" y="214.0" style="letter-spacing:-0.317px">Pharaoh</text>
<text class="yl" x="160.65" y="236.0" style="letter-spacing:-0.700px">enemy</text>
<text class="yl" x="161.35" y="258.0" style="letter-spacing:-0.300px">come</text>
<text class="yl" x="161.00" y="280.0" style="letter-spacing:-0.700px">throw</text>
<text class="yl" x="161.55" y="303.0" style="letter-spacing:-0.125px">river</text>
<text class="yl" x="161.80" y="325.0">fear</text>
<text class="yl" x="161.80" y="347.0">cast</text>
<text class="yl" x="161.60" y="369.0" style="letter-spacing:-0.700px">Allah</text>
<text class="yl" x="161.45" y="391.0" style="letter-spacing:-0.420px">people</text>
<text class="yl" x="162.15" y="413.0" style="letter-spacing:-0.087px">messenger</text>
<text class="yl" x="161.80" y="435.0" style="letter-spacing:-0.057px">Merciful</text>
<text class="yl" x="161.35" y="457.0" style="letter-spacing:-0.300px">hasten</text>
<text class="yl" x="162.15" y="479.0">go</text>
<text class="yl" x="161.35" y="501.0" style="letter-spacing:-0.700px">follow</text>
<text class="yl" x="161.30" y="523.0" style="letter-spacing:-0.700px">find</text>
<text class="yl" x="160.70" y="546.0" style="letter-spacing:-0.700px">family</text>
<text class="yl" x="161.60" y="568.0" style="letter-spacing:-0.571px">enduring</text>
<text class="yl" x="162.00" y="590.0">do</text>
<text class="yl" x="160.55" y="612.0" style="letter-spacing:-0.700px">day</text>
<text class="yl" x="161.65" y="634.0" style="letter-spacing:-0.525px">bring</text>
<text class="yl" x="162.00" y="656.0">be</text>
<text class="yl" x="160.60" y="678.0" style="letter-spacing:-0.700px">away</text>
<text class="xl" x="218.5" y="714">0</text>
<text class="xl" x="461.5" y="714">5</text>
<text class="xl" x="705.3" y="714">10</text>
<text class="xl" x="948.3" y="714">15</text>
<rect x="691.96" y="712" width="6.4" height="2.5" fill="#fff"/>
<rect x="700.48" y="712" width="5.2" height="2.5" fill="#fff"/>
<rect x="934.96" y="712" width="6.4" height="2.5" fill="#fff"/>
<rect x="943.48" y="712" width="5.2" height="2.5" fill="#fff"/>
<text class="tt" x="655.9" y="748">Degree</text>
<text class="tt" transform="translate(37.2,348.2) rotate(-90)">Word</text>
</svg></body></html>
